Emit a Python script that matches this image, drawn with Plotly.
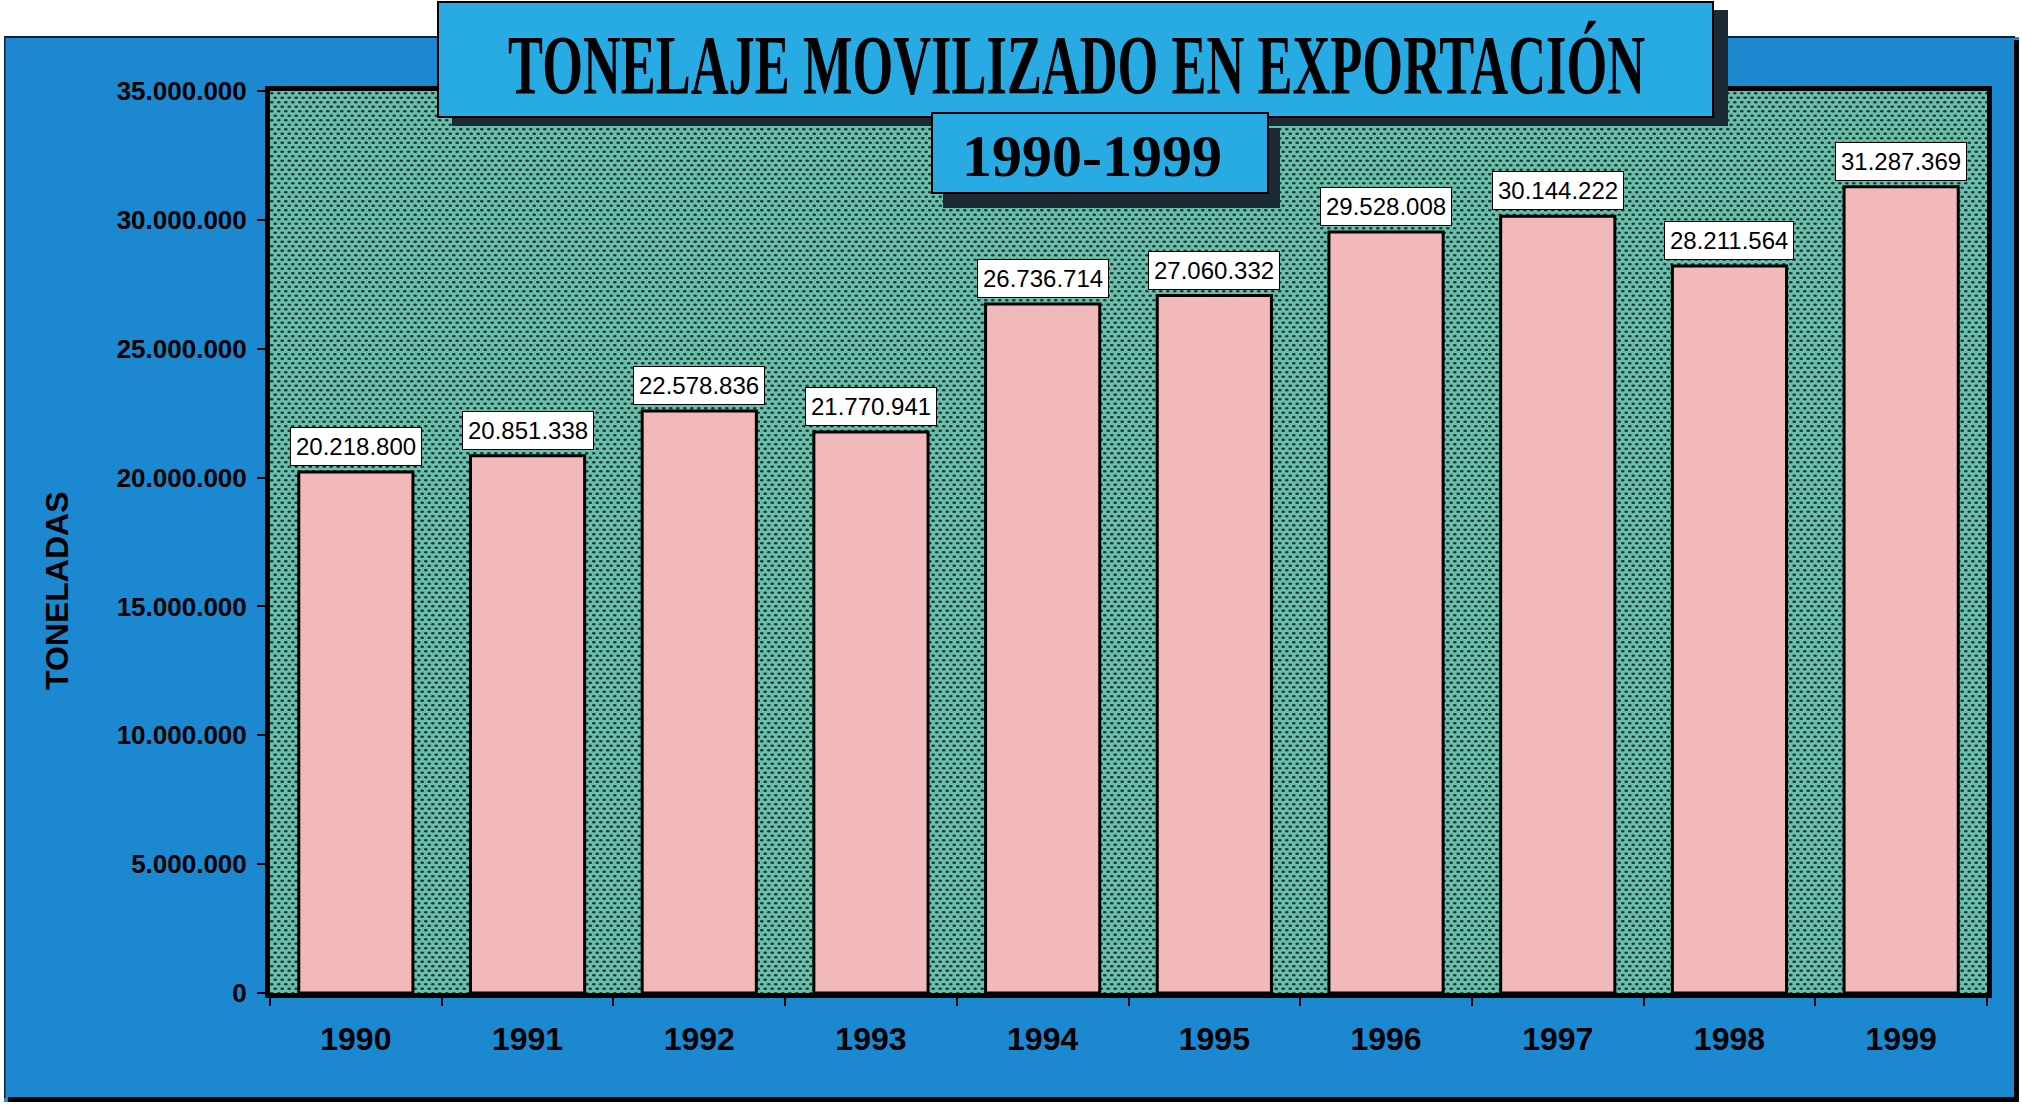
import base64
import plotly.graph_objects as go

# ---- data ----
years = ["1990", "1991", "1992", "1993", "1994", "1995", "1996", "1997", "1998", "1999"]
toneladas = [20218800, 20851338, 22578836, 21770941, 26736714,
             27060332, 29528008, 30144222, 28211564, 31287369]
y_ticks = [0, 5000000, 10000000, 15000000, 20000000, 25000000, 30000000, 35000000]

TITLE = "TONELAJE MOVILIZADO EN EXPORTACIÓN"
SUBTITLE = "1990-1999"
Y_TITLE = "TONELADAS"

# ---- layout geometry (pixels) ----
W, H = 2022, 1108
PL, PR, PT, PB = 270, 1987, 91, 993   # plot area edges


def px(x):
    return (x - PL) / (PR - PL)


def py(y):
    return (PB - y) / (PB - PT)


BLUE = "#1B88D0"
TEAL = "#5FA897"
PINK = "#F1B9BA"
CYAN = "#27ABE2"
SHADOW = "#1C2A36"
SANS = "Liberation Sans, Arial, sans-serif"
SERIF = "Liberation Serif, Times New Roman, serif"


def fmt(v):
    return f"{v:,}".replace(",", ".")


# dotted texture for the plot background (decorative)
pw, ph = PR - PL, PB - PT
svg = (
    f'<svg xmlns="http://www.w3.org/2000/svg" width="{pw}" height="{ph}" '
    f'viewBox="0 0 {pw} {ph}" preserveAspectRatio="none">'
    '<defs><pattern id="d" width="7" height="9" patternUnits="userSpaceOnUse">'
    '<rect width="7" height="9" fill="#69C0AA"/>'
    '<ellipse cx="1.75" cy="2.25" rx="1.9" ry="1.25" fill="#1F3335"/>'
    '<ellipse cx="5.25" cy="6.75" rx="1.9" ry="1.25" fill="#1F3335"/>'
    '</pattern></defs>'
    f'<rect width="{pw}" height="{ph}" fill="url(#d)"/></svg>'
)
texture = "data:image/svg+xml;base64," + base64.b64encode(svg.encode()).decode()

fig = go.Figure()
fig.add_trace(go.Bar(
    x=years, y=toneladas,
    marker=dict(color=PINK, line=dict(color="black", width=3)),
    hoverinfo="x+y",
))

annotations = []
for i, v in enumerate(toneladas):
    # category axis: position i is the i-th category of `years`
    annotations.append(dict(
        x=i, y=v, xref="x", yref="y", text=fmt(v), showarrow=False,
        yanchor="bottom", yshift=6,
        font=dict(family=SANS, size=24, color="black"),
        bgcolor="white", bordercolor="black", borderwidth=1, borderpad=5,
    ))

# title texts
annotations.append(dict(
    x=px(1076), y=py(66), xref="paper", yref="paper", text=TITLE, showarrow=False,
    xanchor="center", yanchor="middle",
    font=dict(family=SERIF, size=84, color="black", weight="bold"),
))
annotations.append(dict(
    x=px(1092), y=py(156), xref="paper", yref="paper", text=SUBTITLE, showarrow=False,
    xanchor="center", yanchor="middle",
    font=dict(family=SERIF, size=60, color="black", weight="bold"),
))
annotations.append(dict(
    x=px(57), y=py(591), xref="paper", yref="paper", text=Y_TITLE, showarrow=False,
    textangle=-90, xanchor="center", yanchor="middle",
    font=dict(family=SANS, size=32, color="black", weight="bold"),
))


def rect(x0, y0, x1, y1, fill, line_color=None, line_width=0, layer="above"):
    return dict(type="rect", xref="paper", yref="paper",
                x0=px(x0), x1=px(x1), y0=py(y1), y1=py(y0),
                fillcolor=fill, layer=layer,
                line=dict(color=line_color or fill, width=line_width))


shapes = [
    # white margins around the blue panel
    rect(-2, -2, W + 2, 37, "white", layer="below"),
    rect(-2, -2, 4, H + 2, "white", layer="below"),
    rect(2019, -2, W + 2, H + 2, "white", layer="below"),
    rect(-2, 1102, W + 2, H + 2, "white", layer="below"),
    # dark edges of the panel
    rect(4, 36, 2015, 38, "#10202c", layer="below"),
    rect(4, 36, 5.5, 1098, "#10202c", layer="below"),
    rect(2014, 40, 2019, 1102, "black", layer="below"),
    rect(8, 1097, 2019, 1102, "black", layer="below"),
    # title box + shadow
    rect(452, 10, 1728, 126, SHADOW),
    rect(438, 2, 1713, 117, CYAN, "black", 2),
    # subtitle box + shadow
    rect(943, 128, 1280, 208, SHADOW),
    rect(932, 113, 1268, 193, CYAN, "black", 2),
]

fig.update_layout(
    width=W, height=H,
    margin=dict(l=PL, r=W - PR, t=PT, b=H - PB, pad=0),
    paper_bgcolor=BLUE, plot_bgcolor=TEAL,
    separators=",.",
    bargap=0.335,
    showlegend=False,
    annotations=annotations,
    shapes=shapes,
    images=[dict(source=texture, xref="paper", yref="paper", x=0, y=1,
                 sizex=1, sizey=1, xanchor="left", yanchor="top",
                 sizing="stretch", layer="below")],
    font=dict(family=SANS, color="black"),
)
fig.update_xaxes(
    type="category", categoryorder="array", categoryarray=years,
    range=[-0.5, len(years) - 0.5], autorange=False,
    showgrid=False, zeroline=False,
    showline=True, linecolor="black", linewidth=5, mirror=True,
    ticks="outside", tickson="boundaries", ticklen=8, tickwidth=1.5, tickcolor="black",
    tickfont=dict(family=SANS, size=32, color="black", weight="bold"),
    ticklabelstandoff=14, tickangle=0,
)
fig.update_yaxes(
    range=[0, 35000000], autorange=False, tickvals=y_ticks, tickformat=",.0f",
    showgrid=False, zeroline=False,
    showline=True, linecolor="black", linewidth=5, mirror=True,
    ticks="outside", ticklen=8, tickwidth=1.5, tickcolor="black",
    tickfont=dict(family=SANS, size=26, color="black", weight="bold"),
    ticklabelstandoff=5,
)

post = """
document.body.style.margin = '0';
document.body.style.background = 'white';
var gd = document.getElementById('{plot_id}');
function squeeze(){
  gd.querySelectorAll('text.annotation-text').forEach(function(e){
    var s = e.textContent || '';
    if (s.indexOf('TONELAJE') === 0) {
      e.setAttribute('textLength', '1137');
      e.setAttribute('lengthAdjust', 'spacingAndGlyphs');
    }
  });
}
squeeze();
gd.on('plotly_afterplot', squeeze);
"""

fig.write_html("out.html", post_script=post, config={"displayModeBar": False})
